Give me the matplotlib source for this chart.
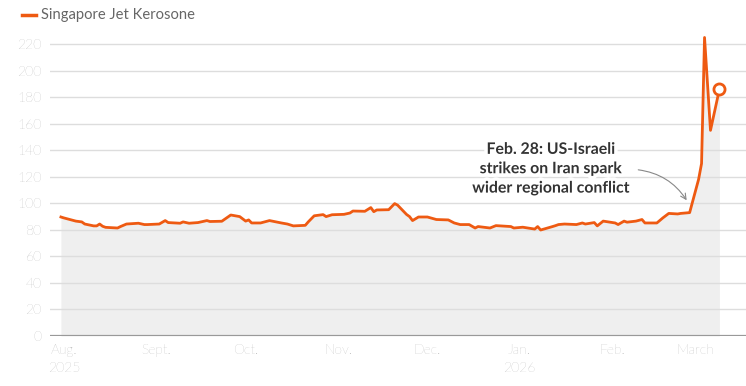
import pandas as pd
import matplotlib.pyplot as plt
import matplotlib.patheffects as pe

# Singapore jet kerosene price
dates = ['2025-07-31', '2025-08-01', '2025-08-05', '2025-08-07', '2025-08-08',
         '2025-08-11', '2025-08-12', '2025-08-13', '2025-08-14', '2025-08-15',
         '2025-08-19', '2025-08-20', '2025-08-22', '2025-08-26', '2025-08-28',
         '2025-08-29', '2025-09-02', '2025-09-04', '2025-09-05', '2025-09-09',
         '2025-09-10', '2025-09-12', '2025-09-15', '2025-09-18', '2025-09-19',
         '2025-09-23', '2025-09-26', '2025-09-29', '2025-10-01', '2025-10-02',
         '2025-10-03', '2025-10-06', '2025-10-09', '2025-10-13', '2025-10-15',
         '2025-10-17', '2025-10-21', '2025-10-22', '2025-10-24', '2025-10-27',
         '2025-10-28', '2025-10-30', '2025-11-03', '2025-11-05', '2025-11-06',
         '2025-11-10', '2025-11-12', '2025-11-13', '2025-11-14', '2025-11-18',
         '2025-11-20', '2025-11-21', '2025-11-24', '2025-11-25', '2025-11-26',
         '2025-11-28', '2025-12-01', '2025-12-04', '2025-12-08', '2025-12-10',
         '2025-12-12', '2025-12-15', '2025-12-17', '2025-12-18', '2025-12-22',
         '2025-12-24', '2025-12-29', '2025-12-30', '2026-01-02', '2026-01-06',
         '2026-01-07', '2026-01-08', '2026-01-12', '2026-01-13', '2026-01-14',
         '2026-01-16', '2026-01-20', '2026-01-22', '2026-01-23', '2026-01-26',
         '2026-01-27', '2026-01-29', '2026-02-02', '2026-02-03', '2026-02-05',
         '2026-02-06', '2026-02-09', '2026-02-11', '2026-02-12', '2026-02-16',
         '2026-02-18', '2026-02-20', '2026-02-23', '2026-02-24', '2026-02-27',
         '2026-03-02', '2026-03-03', '2026-03-04', '2026-03-06', '2026-03-09']
prices = [89.7, 89.0, 86.6, 86.0, 84.4,
          83.0, 83.0, 84.4, 82.7, 81.9,
          81.4, 82.5, 84.4, 85.0, 84.0,
          84.0, 84.4, 87.0, 85.5, 85.0,
          86.0, 85.0, 85.5, 87.0, 86.3,
          86.5, 91.2, 90.0, 86.6, 87.5,
          85.2, 85.2, 87.0, 85.2, 84.4,
          83.0, 83.4, 86.0, 90.6, 91.5,
          90.0, 91.4, 91.7, 92.7, 94.2,
          94.0, 96.8, 93.7, 95.0, 95.2,
          99.8, 98.6, 91.6, 90.0, 87.0,
          89.7, 89.7, 87.8, 87.5, 85.2,
          84.0, 84.0, 81.4, 82.5, 81.4,
          83.2, 82.5, 81.4, 82.0, 80.6,
          82.5, 79.9, 82.5, 83.2, 84.0,
          84.4, 84.0, 85.2, 84.4, 85.5,
          83.0, 86.6, 85.2, 84.0, 86.6,
          85.8, 86.6, 87.8, 85.2, 85.2,
          89.0, 92.4, 92.0, 92.4, 93.0,
          118.0, 130.0, 225.0, 155.0, 186.0]

month_ticks = ['2025-08-01', '2025-09-01', '2025-10-01', '2025-11-01',
               '2025-12-01', '2026-01-01', '2026-02-01', '2026-03-01']
month_labels = ['Aug.\n2025', 'Sept.', 'Oct.', 'Nov.', 'Dec.', 'Jan.\n2026', 'Feb.', 'March']
y_ticks = list(range(0, 221, 20))

dates = pd.to_datetime(dates)
month_ticks = pd.to_datetime(month_ticks)

orange = '#ee5a12'
plt.rcParams['font.family'] = ['Lato', 'DejaVu Sans']

fig = plt.figure(figsize=(7.46, 3.86), dpi=100)
ax = fig.add_axes([50 / 746, 0.1295, 1 - 50 / 746, 0.7906])

ax.fill_between(dates, prices, 0, color='#efefef', lw=0, zorder=1)
ax.plot(dates, prices, color=orange, lw=2.0, zorder=3, solid_joinstyle='round')
ax.plot(dates[-1], prices[-1], 'o', ms=8, mfc='white', mec=orange, mew=2, zorder=4)

ax.set_xlim(pd.Timestamp('2025-07-27 08:00'), pd.Timestamp('2026-03-17 22:00'))
ax.set_ylim(0, 230)
ax.set_yticks(y_ticks)
ax.set_xticks(month_ticks)
ax.set_xticklabels(month_labels, linespacing=1.45)
ax.grid(axis='y', color='#dddddd', lw=1, zorder=0)
ax.axhline(0, color='#999999', lw=1.6, zorder=2)
for s in ax.spines.values():
    s.set_visible(False)
ax.tick_params(axis='both', length=0, labelsize=10, labelcolor='#999999')
ax.tick_params(axis='y', pad=6)
ax.tick_params(axis='x', pad=6)
for lab in ax.get_xticklabels() + ax.get_yticklabels():
    lab.set_fontweight('light')
for lab in ax.get_xticklabels():
    lab.set_horizontalalignment('center')

# legend
fig.add_artist(plt.Line2D([22 / 746, 36 / 746], [1 - 15 / 386, 1 - 15 / 386],
                          color=orange, lw=2.5))
fig.text(41 / 746, 1 - 15 / 386, 'Singapore Jet Kerosone', fontsize=10.6,
         color='#666666', va='center', ha='left')

# annotation
ann_lines = ['Feb. 28: US-Israeli', 'strikes on Iran spark', 'wider regional conflict']
for i, t in enumerate(ann_lines):
    ax.text(pd.Timestamp('2026-01-11 12:00'), 140.3 - i * 14.6, t, ha='center', va='center',
            fontsize=11.4, fontweight='bold', color='#333333', zorder=5,
            path_effects=[pe.withStroke(linewidth=5, foreground='white')])
ax.annotate('', xy=(pd.Timestamp('2026-02-26 12:00'), 100.5),
            xytext=(pd.Timestamp('2026-02-08 20:00'), 125.5),
            arrowprops=dict(arrowstyle='->', color='#888888', lw=0.8,
                            connectionstyle='arc3,rad=-0.25'), zorder=5)

fig.savefig('out.png', dpi=100)
